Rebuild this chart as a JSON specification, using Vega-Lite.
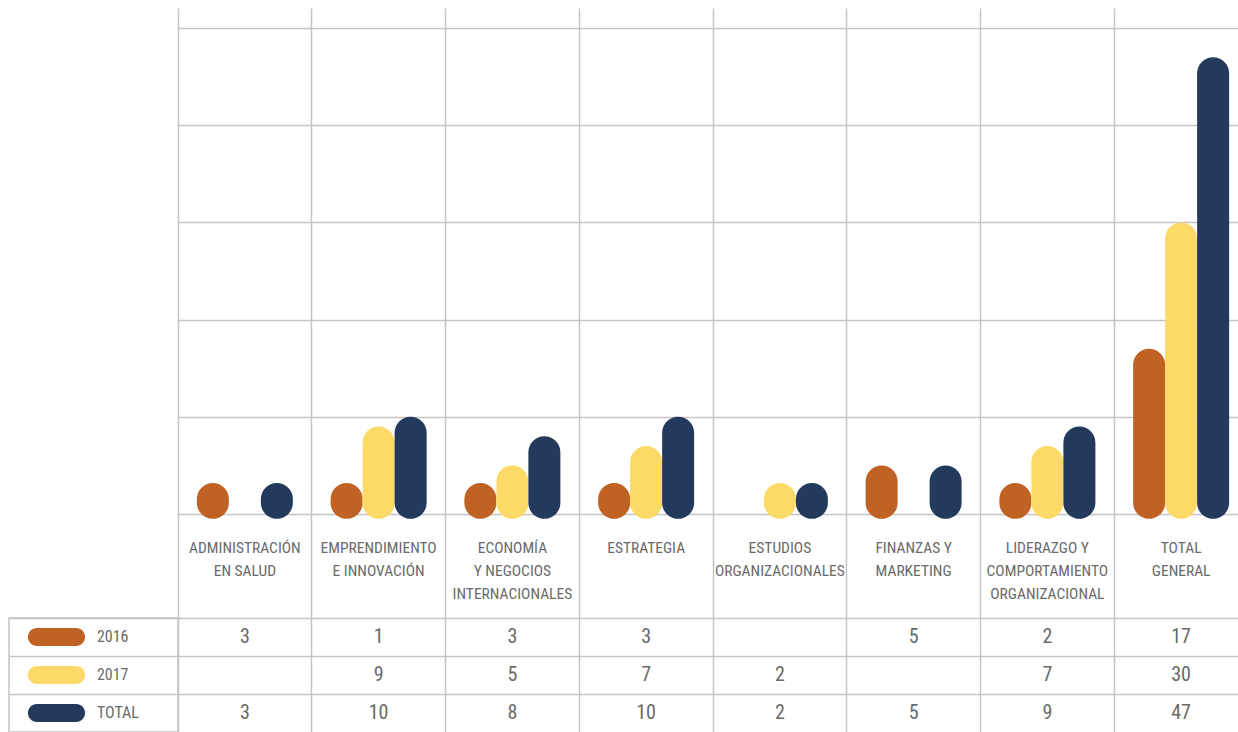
{
  "$schema": "https://vega.github.io/schema/vega-lite/v6.json",
  "background": "white",
  "padding": {"left": 8, "top": 8, "right": 0, "bottom": 0},
  "columns": 2,
  "spacing": 0,
  "bounds": "flush",
  "config": {
    "view": {"stroke": null},
    "axis": {"gridColor": "#c4c4c4", "gridWidth": 1.5, "gridOpacity": 1, "labels": false, "ticks": false, "domain": false},
    "text": {"font": "Roboto Condensed, Liberation Sans Narrow, DejaVu Sans Condensed, sans-serif", "fill": "#6a6a6a"}
  },
  "datasets": {
    "bars": [
      {"area": "Administración en Salud", "series": "2016", "value": 3},
      {"area": "Administración en Salud", "series": "TOTAL", "value": 3},
      {"area": "Emprendimiento e Innovación", "series": "2016", "value": 1},
      {"area": "Emprendimiento e Innovación", "series": "2017", "value": 9},
      {"area": "Emprendimiento e Innovación", "series": "TOTAL", "value": 10},
      {"area": "Economía y Negocios Internacionales", "series": "2016", "value": 3},
      {"area": "Economía y Negocios Internacionales", "series": "2017", "value": 5},
      {"area": "Economía y Negocios Internacionales", "series": "TOTAL", "value": 8},
      {"area": "Estrategia", "series": "2016", "value": 3},
      {"area": "Estrategia", "series": "2017", "value": 7},
      {"area": "Estrategia", "series": "TOTAL", "value": 10},
      {"area": "Estudios Organizacionales", "series": "2017", "value": 2},
      {"area": "Estudios Organizacionales", "series": "TOTAL", "value": 2},
      {"area": "Finanzas y Marketing", "series": "2016", "value": 5},
      {"area": "Finanzas y Marketing", "series": "TOTAL", "value": 5},
      {"area": "Liderazgo y Comportamiento Organizacional", "series": "2016", "value": 2},
      {"area": "Liderazgo y Comportamiento Organizacional", "series": "2017", "value": 7},
      {"area": "Liderazgo y Comportamiento Organizacional", "series": "TOTAL", "value": 9},
      {"area": "Total General", "series": "2016", "value": 17},
      {"area": "Total General", "series": "2017", "value": 30},
      {"area": "Total General", "series": "TOTAL", "value": 47}
    ],
    "cats": [
      {"area": "Administración en Salud", "label": "ADMINISTRACIÓN\nEN SALUD"},
      {"area": "Emprendimiento e Innovación", "label": "EMPRENDIMIENTO\nE INNOVACIÓN"},
      {"area": "Economía y Negocios Internacionales", "label": "ECONOMÍA\nY NEGOCIOS\nINTERNACIONALES"},
      {"area": "Estrategia", "label": "ESTRATEGIA"},
      {"area": "Estudios Organizacionales", "label": "ESTUDIOS\nORGANIZACIONALES"},
      {"area": "Finanzas y Marketing", "label": "FINANZAS Y\nMARKETING"},
      {"area": "Liderazgo y Comportamiento Organizacional", "label": "LIDERAZGO Y\nCOMPORTAMIENTO\nORGANIZACIONAL"},
      {"area": "Total General", "label": "TOTAL\nGENERAL"}
    ],
    "rows": [
      {"series": "2016"},
      {"series": "2017"},
      {"series": "TOTAL"}
    ]
  },
  "concat": [
    {
      "width": 169,
      "height": 610,
      "data": {"values": [{}]},
      "mark": {"type": "text"},
      "encoding": {"text": {"value": ""}}
    },
    {
      "width": 1061,
      "height": 610,
      "layer": [
        {
          "data": {"name": "bars"},
          "transform": [{"filter": "datum.value < 3.2"}],
          "mark": {"type": "bar", "cornerRadius": 16},
          "encoding": {
            "x": {"field": "area", "type": "nominal", "sort": null,
              "scale": {"type": "band", "domain": ["Administración en Salud", "Emprendimiento e Innovación", "Economía y Negocios Internacionales", "Estrategia", "Estudios Organizacionales", "Finanzas y Marketing", "Liderazgo y Comportamiento Organizacional", "Total General"], "range": [0, 1070], "paddingInner": 0, "paddingOuter": 0},
              "axis": {"grid": true, "bandPosition": 0, "title": null}},
            "xOffset": {"field": "series", "type": "nominal", "scale": {"domain": ["2016", "2017", "TOTAL"], "paddingInner": 0, "paddingOuter": 0.59}},
            "y": {"datum": 3.2, "type": "quantitative",
              "scale": {"domain": [-10.7, 52.06], "nice": false, "zero": false},
              "axis": {"grid": true, "values": [0, 10, 20, 30, 40, 50], "title": null}},
            "y2": {"datum": -0.5},
            "color": {"field": "series", "type": "nominal", "scale": {"domain": ["2016", "2017", "TOTAL"], "range": ["#C06224", "#FDD968", "#233A5C"]}, "legend": null}
          }
        },
        {
          "data": {"name": "bars"},
          "transform": [{"filter": "datum.value >= 3.2"}],
          "mark": {"type": "bar", "cornerRadius": 16},
          "encoding": {
            "x": {"field": "area", "type": "nominal", "sort": null},
            "xOffset": {"field": "series", "type": "nominal"},
            "y": {"field": "value", "type": "quantitative"},
            "y2": {"datum": -0.5},
            "color": {"field": "series", "type": "nominal", "legend": null}
          }
        },
        {
          "data": {"name": "cats"},
          "mark": {"type": "text", "fontSize": 15.5, "lineBreak": "\n", "lineHeight": 23, "align": "center", "baseline": "alphabetic"},
          "encoding": {
            "x": {"field": "area", "type": "nominal", "sort": null},
            "y": {"datum": -4.0, "type": "quantitative"},
            "text": {"field": "label"}
          }
        }
      ]
    },
    {
      "width": 169,
      "height": 114,
      "view": {"stroke": "#c4c4c4", "strokeWidth": 1.5},
      "data": {"name": "rows"},
      "layer": [
        {
          "mark": {"type": "bar", "cornerRadius": 9, "height": {"band": 0.47}},
          "encoding": {
            "x": {"datum": 0.112, "type": "quantitative", "scale": {"domain": [0, 1], "nice": false, "zero": false}, "axis": null},
            "x2": {"datum": 0.45},
            "y": {"field": "series", "type": "nominal", "scale": {"type": "band", "domain": ["2016", "2017", "TOTAL"], "paddingInner": 0, "paddingOuter": 0},
              "axis": {"grid": true, "bandPosition": 0, "title": null}},
            "color": {"field": "series", "type": "nominal", "scale": {"domain": ["2016", "2017", "TOTAL"], "range": ["#C06224", "#FDD968", "#233A5C"]}, "legend": null}
          }
        },
        {
          "mark": {"type": "text", "fontSize": 16, "align": "left", "baseline": "middle"},
          "encoding": {
            "x": {"datum": 0.52, "type": "quantitative"},
            "y": {"field": "series", "type": "nominal"},
            "text": {"field": "series"}
          }
        }
      ]
    },
    {
      "width": 1061,
      "height": 114,
      "data": {"name": "bars"},
      "mark": {"type": "text", "fontSize": 20, "align": "center", "baseline": "middle"},
      "encoding": {
        "x": {"field": "area", "type": "nominal", "sort": null,
          "scale": {"type": "band", "domain": ["Administración en Salud", "Emprendimiento e Innovación", "Economía y Negocios Internacionales", "Estrategia", "Estudios Organizacionales", "Finanzas y Marketing", "Liderazgo y Comportamiento Organizacional", "Total General"], "range": [0, 1070], "paddingInner": 0, "paddingOuter": 0},
          "axis": {"grid": true, "bandPosition": 0, "title": null}},
        "y": {"field": "series", "type": "nominal", "scale": {"type": "band", "domain": ["2016", "2017", "TOTAL"], "paddingInner": 0, "paddingOuter": 0},
          "axis": {"grid": true, "bandPosition": 0, "title": null}},
        "text": {"field": "value"}
      }
    }
  ]
}
